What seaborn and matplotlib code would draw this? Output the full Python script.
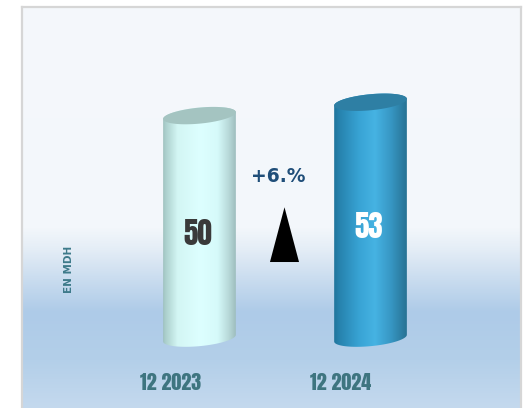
import numpy as np
import pandas as pd
import matplotlib
matplotlib.use("Agg")
import matplotlib.pyplot as plt
import seaborn as sns
from matplotlib.patches import Polygon
from matplotlib.colors import to_rgb

# ---- data ----
periods = ["12 2023", "12 2024"]
values = [50, 53]
value_labels = ["50", "53"]
change_label = "+6.%"
unit_label = "EN MDH"

# ---- styles ----
body_stops = [
    [(0.00, "#8aaaa8"), (0.06, "#a9cdca"), (0.22, "#d3f6f4"), (0.50, "#ddffff"),
     (0.72, "#d6fafa"), (0.86, "#b8d9d9"), (0.95, "#9ebebe"), (1.00, "#8aa9a8")],
    [(0.00, "#1d6d92"), (0.10, "#2682ad"), (0.35, "#38a3d4"), (0.55, "#46b3e3"),
     (0.75, "#3797c4"), (0.90, "#2b7b9f"), (1.00, "#236a8a")],
]
top_colors = ["#a4c4c1", "#2e7fa4"]
label_colors = ["#3a3a3a", "#ffffff"]
IMPACT = ["Anton", "DejaVu Sans"]
SANSB = ["DejaVu Sans"]

W, H = 531, 408
sns.set_theme(style="white")
fig = plt.figure(figsize=(W / 100, H / 100), dpi=100)
fig.patch.set_facecolor("white")
ax = fig.add_axes([22 / W, 0, 499 / W, 401 / H])

df = pd.DataFrame({"period": periods, "value": values})
sns.barplot(data=df, x="period", y="value", width=0.427, ax=ax,
            color="#46b3e3", errorbar=None)

XL = (-1.038, 1.880)
YL = (-15.7, 74.4)
ax.set_xlim(*XL)
ax.set_ylim(*YL)


def hexgrad(stops, n=200):
    xs = np.linspace(0, 1, n)
    pos = [s[0] for s in stops]
    cols = np.array([to_rgb(s[1]) for s in stops])
    return np.stack([np.interp(xs, pos, cols[:, k]) for k in range(3)], axis=-1)


# background gradient (pixel rows from top of figure)
ys_px = np.arange(7, 409)
bg_pos = [7, 228, 250, 280, 312, 360, 408]
bg_cols = np.array([to_rgb(c) for c in
                    ["#f5f8fc", "#f3f7fb", "#e4edf6", "#c9dcef", "#aecbe8",
                     "#b3cfe9", "#c4d9ee"]])
bg = np.stack([np.interp(ys_px, bg_pos, bg_cols[:, k]) for k in range(3)], axis=-1)
bg = bg[:, None, :]
ax.imshow(bg, extent=[XL[0], XL[1], YL[0], YL[1]], aspect="auto", zorder=0,
          origin="upper", interpolation="bilinear")

b_px = 8.0
theta = np.deg2rad(5.5)
inv = ax.transData.inverted()


def ellipse_pts(cx, cy, a, b, t0, t1, n=60):
    t = np.linspace(t0, t1, n)
    x = cx + a * np.cos(t) * np.cos(theta) - b * np.sin(t) * np.sin(theta)
    y = cy + a * np.cos(t) * np.sin(theta) + b * np.sin(t) * np.cos(theta)
    return np.column_stack([x, y])


for i, p in enumerate(list(ax.patches)):
    x0, w, h = p.get_x(), p.get_width(), p.get_height()
    p.set_alpha(0)
    (px0, py0) = ax.transData.transform((x0, 0))
    (px1, py1) = ax.transData.transform((x0 + w, h))
    cx = (px0 + px1) / 2
    a = (px1 - px0) / 2
    top = ellipse_pts(cx, py1, a, b_px, 0, np.pi)
    bot = ellipse_pts(cx, py0, a, b_px, np.pi, 2 * np.pi)
    body_d = inv.transform(np.vstack([top, bot]))
    body = Polygon(body_d, closed=True, facecolor="none", edgecolor="none",
                   transform=ax.transData, zorder=2)
    ax.add_patch(body)
    grad = hexgrad(body_stops[i])[None, :, :]
    ylo = inv.transform((0, py0 - 20))[1]
    yhi = inv.transform((0, py1 + 20))[1]
    im = ax.imshow(grad, extent=[x0 - 0.02, x0 + w + 0.02, ylo, yhi],
                   aspect="auto", zorder=2, interpolation="bilinear")
    im.set_clip_path(body)
    cap = inv.transform(ellipse_pts(cx, py1, a, b_px, 0, 2 * np.pi, 120))
    ax.add_patch(Polygon(cap, closed=True, facecolor=top_colors[i],
                         edgecolor="none", zorder=3))
    ax.text(x0 + w / 2 - 0.01, values[i] * 0.47, value_labels[i],
            ha="center", va="center", fontsize=21, family=IMPACT,
            color=label_colors[i], zorder=5)
    ax.text(x0 + w / 2 - 0.172, -10.0, periods[i], ha="center", va="center",
            fontsize=14.5, family=IMPACT, color="#3e7580", zorder=5)

# change annotation
ax.text(0.462, 36.3, change_label, ha="center", va="center", fontsize=13.5,
        fontweight="bold", family=SANSB, color="#1f4e79", zorder=5)
ax.add_patch(Polygon([(0.412, 17.1), (0.582, 17.1), (0.497, 29.4)],
                     closed=True, facecolor="black", edgecolor="none", zorder=5))

# unit label
ax.text(-0.765, 15.5, unit_label, rotation=90, ha="center", va="center",
        fontsize=7.5, fontweight="bold", family=SANSB,
        color="#3d7a8a", zorder=5)

ax.set_xlim(*XL)
ax.set_ylim(*YL)
ax.set_xticks([])
ax.set_yticks([])
ax.set_xlabel("")
ax.set_ylabel("")
for side in ["left", "top", "right"]:
    ax.spines[side].set_visible(True)
    ax.spines[side].set_color("#d6d6d6")
    ax.spines[side].set_linewidth(1.6)
ax.spines["bottom"].set_visible(False)

fig.savefig("out.png", dpi=100, facecolor="white")
